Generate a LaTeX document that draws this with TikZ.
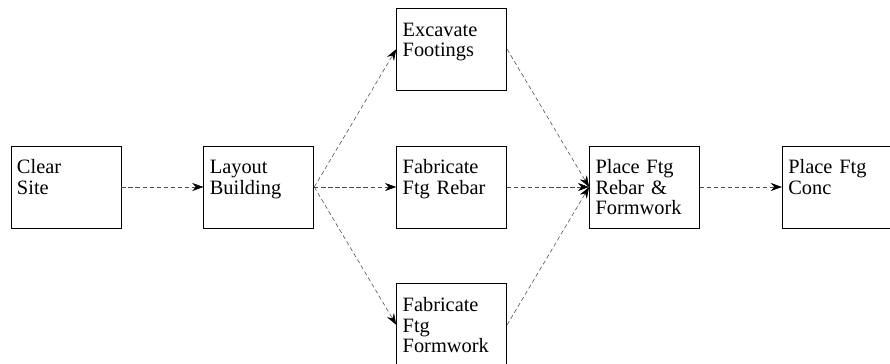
\documentclass[tikz,border=0pt]{standalone}
\usepackage{fontspec}
\setmainfont{Liberation Serif}
\usetikzlibrary{positioning,arrows.meta}

\begin{document}
\begin{tikzpicture}[
node distance=2.05cm,
task/.style={rectangle,draw,semithick,align=left,
  text width=2.45cm,inner xsep=0.15cm,inner ysep=0.14cm,
  text height=0.56cm,text depth=1.21cm,
  font=\fontsize{14.5}{14.4}\selectfont},
link/.style={-{Stealth[length=2.8mm,width=2mm,black]},densely dashed,black!70,thin}
]
\useasboundingbox (0,0) rectangle (22.25,-9.1);

\node[task] (clear) at (1.65,-4.675) {Clear\\Site};
\node[task, right=of clear] (layout) {Layout\\Building};
\node[task, right=of layout] (rebar) {Fabricate\\Ftg Rebar};
\node[task, above=1.375cm of rebar] (excavate) {Excavate\\Footings};
\node[task, below=1.375cm of rebar] (formwork) {Fabricate\\Ftg\\Formwork};
\node[task, right=of rebar] (place) {Place Ftg\\Rebar \&\\Formwork};
\node[task, right=of place] (conc) {Place Ftg\\Conc};

\draw[link] (clear) -- (layout);
\draw[link] (layout.east) -- (excavate.west);
\draw[link] (layout) -- (rebar);
\draw[link] (layout.east) -- (formwork.west);
\draw[link] (excavate.east) -- (place.west);
\draw[link] (rebar) -- (place);
\draw[link] (formwork.east) -- (place.west);
\draw[link] (place) -- (conc);

\end{tikzpicture}
\end{document}
